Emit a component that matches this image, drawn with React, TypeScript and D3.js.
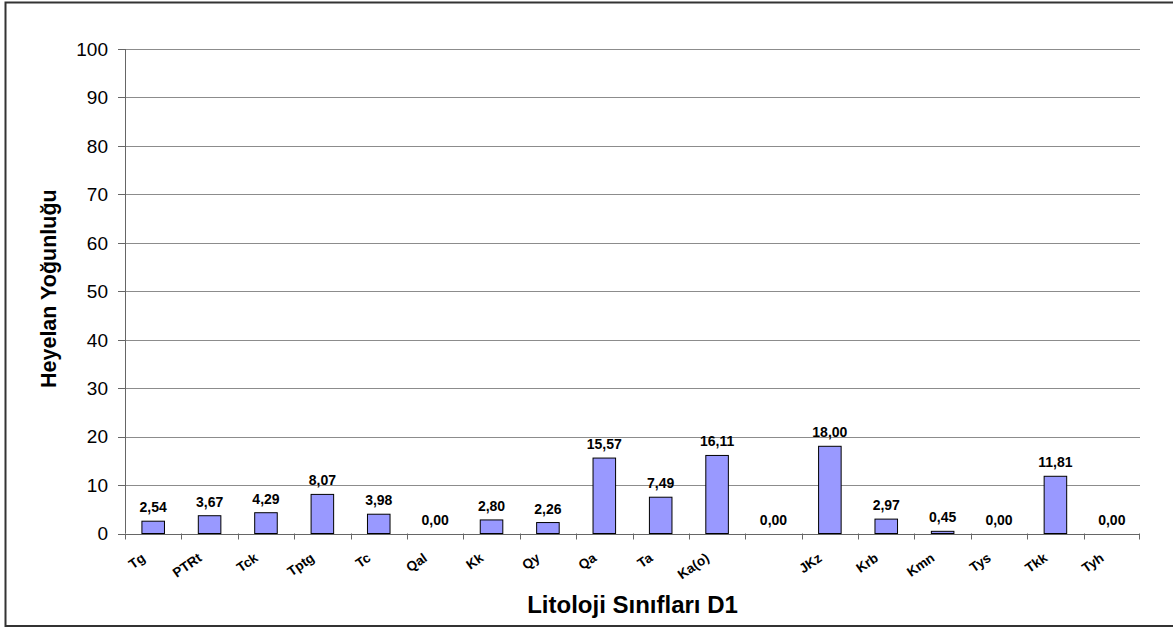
import React from "react";
import * as d3 from "d3";

// Lithology classes and landslide density per class
const categories: string[] = [
  "Tg", "PTRt", "Tck", "Tptg", "Tc", "Qal", "Kk", "Qy", "Qa", "Ta", "Ka(o)", "",
  "JKz", "Krb", "Kmn", "Tys", "Tkk", "Tyh",
];
const values: number[] = [
  2.54, 3.67, 4.29, 8.07, 3.98, 0.0, 2.8, 2.26, 15.57, 7.49, 16.11, 0.0,
  18.0, 2.97, 0.45, 0.0, 11.81, 0.0,
];
const yTicks: number[] = [0, 10, 20, 30, 40, 50, 60, 70, 80, 90, 100];

const W = 1173;
const H = 628;
const plot = { left: 125, right: 1140, top: 49, bottom: 533.5 };

const fmt = (v: number) => v.toFixed(2).replace(".", ",");

export default function App() {
  const x = d3
    .scaleBand<number>()
    .domain(categories.map((_, i) => i))
    .range([plot.left, plot.right])
    .paddingInner(0)
    .paddingOuter(0);
  const y = d3.scaleLinear().domain([0, 100]).range([plot.bottom, plot.top]);
  const band = x.bandwidth();
  const barW = band * 0.4;
  const font = "Arial, 'Liberation Sans', Helvetica, sans-serif";

  return (
    <div style={{ position: "absolute", left: 0, top: 0 }}>
      <svg width={W} height={H} style={{ display: "block", background: "#fff" }}>
        <defs>
          <clipPath id="ytitle-clip">
            <rect x={0} y={187} width={120} height={400} />
          </clipPath>
        </defs>
        {/* chart frame */}
        <rect x={5.5} y={2.5} width={1200} height={623.5} fill="#fff" stroke="#333" strokeWidth={2} />

        {/* gridlines */}
        {yTicks.map((t) => (
          <line
            key={"g" + t}
            x1={plot.left}
            x2={plot.right}
            y1={Math.round(y(t)) + 0.5}
            y2={Math.round(y(t)) + 0.5}
            stroke="#8c8c8c"
            strokeWidth={1}
          />
        ))}

        {/* y axis */}
        <line x1={plot.left + 0.5} x2={plot.left + 0.5} y1={plot.top} y2={plot.bottom} stroke="#666" />
        {yTicks.map((t) => (
          <g key={"yt" + t}>
            <line
              x1={plot.left - 7}
              x2={plot.left}
              y1={Math.round(y(t)) + 0.5}
              y2={Math.round(y(t)) + 0.5}
              stroke="#666"
            />
            <text
              x={108}
              y={y(t)}
              dy="0.36em"
              textAnchor="end"
              fontFamily={font}
              fontSize={19}
              fill="#000"
            >
              {t}
            </text>
          </g>
        ))}

        {/* bars */}
        {values.map((v, i) => {
          const cx = (x(i) as number) + band / 2;
          return (
            <g key={"b" + i}>
              {v > 0 && (
                <rect
                  x={cx - barW / 2}
                  y={y(v)}
                  width={barW}
                  height={y(0) - y(v)}
                  fill="#9999FF"
                  stroke="#000"
                  strokeWidth={1}
                />
              )}
              <text
                x={cx}
                y={y(v) - 9}
                textAnchor="middle"
                fontFamily={font}
                fontWeight="bold"
                fontSize={14}
                fill="#000"
              >
                {fmt(v)}
              </text>
            </g>
          );
        })}

        {/* x axis */}
        <line x1={plot.left} x2={plot.right} y1={Math.round(plot.bottom) + 0.5} y2={Math.round(plot.bottom) + 0.5} stroke="#666" />
        {categories.map((_, i) => {
          const xt = Math.round(x(i) as number) + 0.5;
          return <line key={"xt" + i} x1={xt} x2={xt} y1={plot.bottom} y2={plot.bottom + 6} stroke="#666" />;
        })}
        <line x1={plot.right - 0.5} x2={plot.right - 0.5} y1={plot.bottom} y2={plot.bottom + 6} stroke="#666" />
        {categories.map((c, i) => {
          const cx = (x(i) as number) + band / 2;
          const ax = cx - 7;
          const ay = 560;
          return (
            <text
              key={"xl" + i}
              x={ax}
              y={ay}
              transform={`rotate(-35, ${ax}, ${ay})`}
              textAnchor="end"
              fontFamily={font}
              fontWeight="bold"
              fontSize={13.5}
              fill="#000"
            >
              {c}
            </text>
          );
        })}

        {/* axis titles */}
        <text
          x={(plot.left + plot.right) / 2}
          y={613}
          textAnchor="middle"
          fontFamily={font}
          fontWeight="bold"
          fontSize={24}
          fill="#000"
        >
          Litoloji Sınıfları D1
        </text>
        <g clipPath="url(#ytitle-clip)">
          <text
            x={56}
            y={388}
            transform="rotate(-90, 56, 388)"
            textAnchor="start"
            fontFamily={font}
            fontWeight="bold"
            fontSize={21.5}
            fill="#000"
          >
            Heyelan Yoğunluğu
          </text>
        </g>
      </svg>
    </div>
  );
}
